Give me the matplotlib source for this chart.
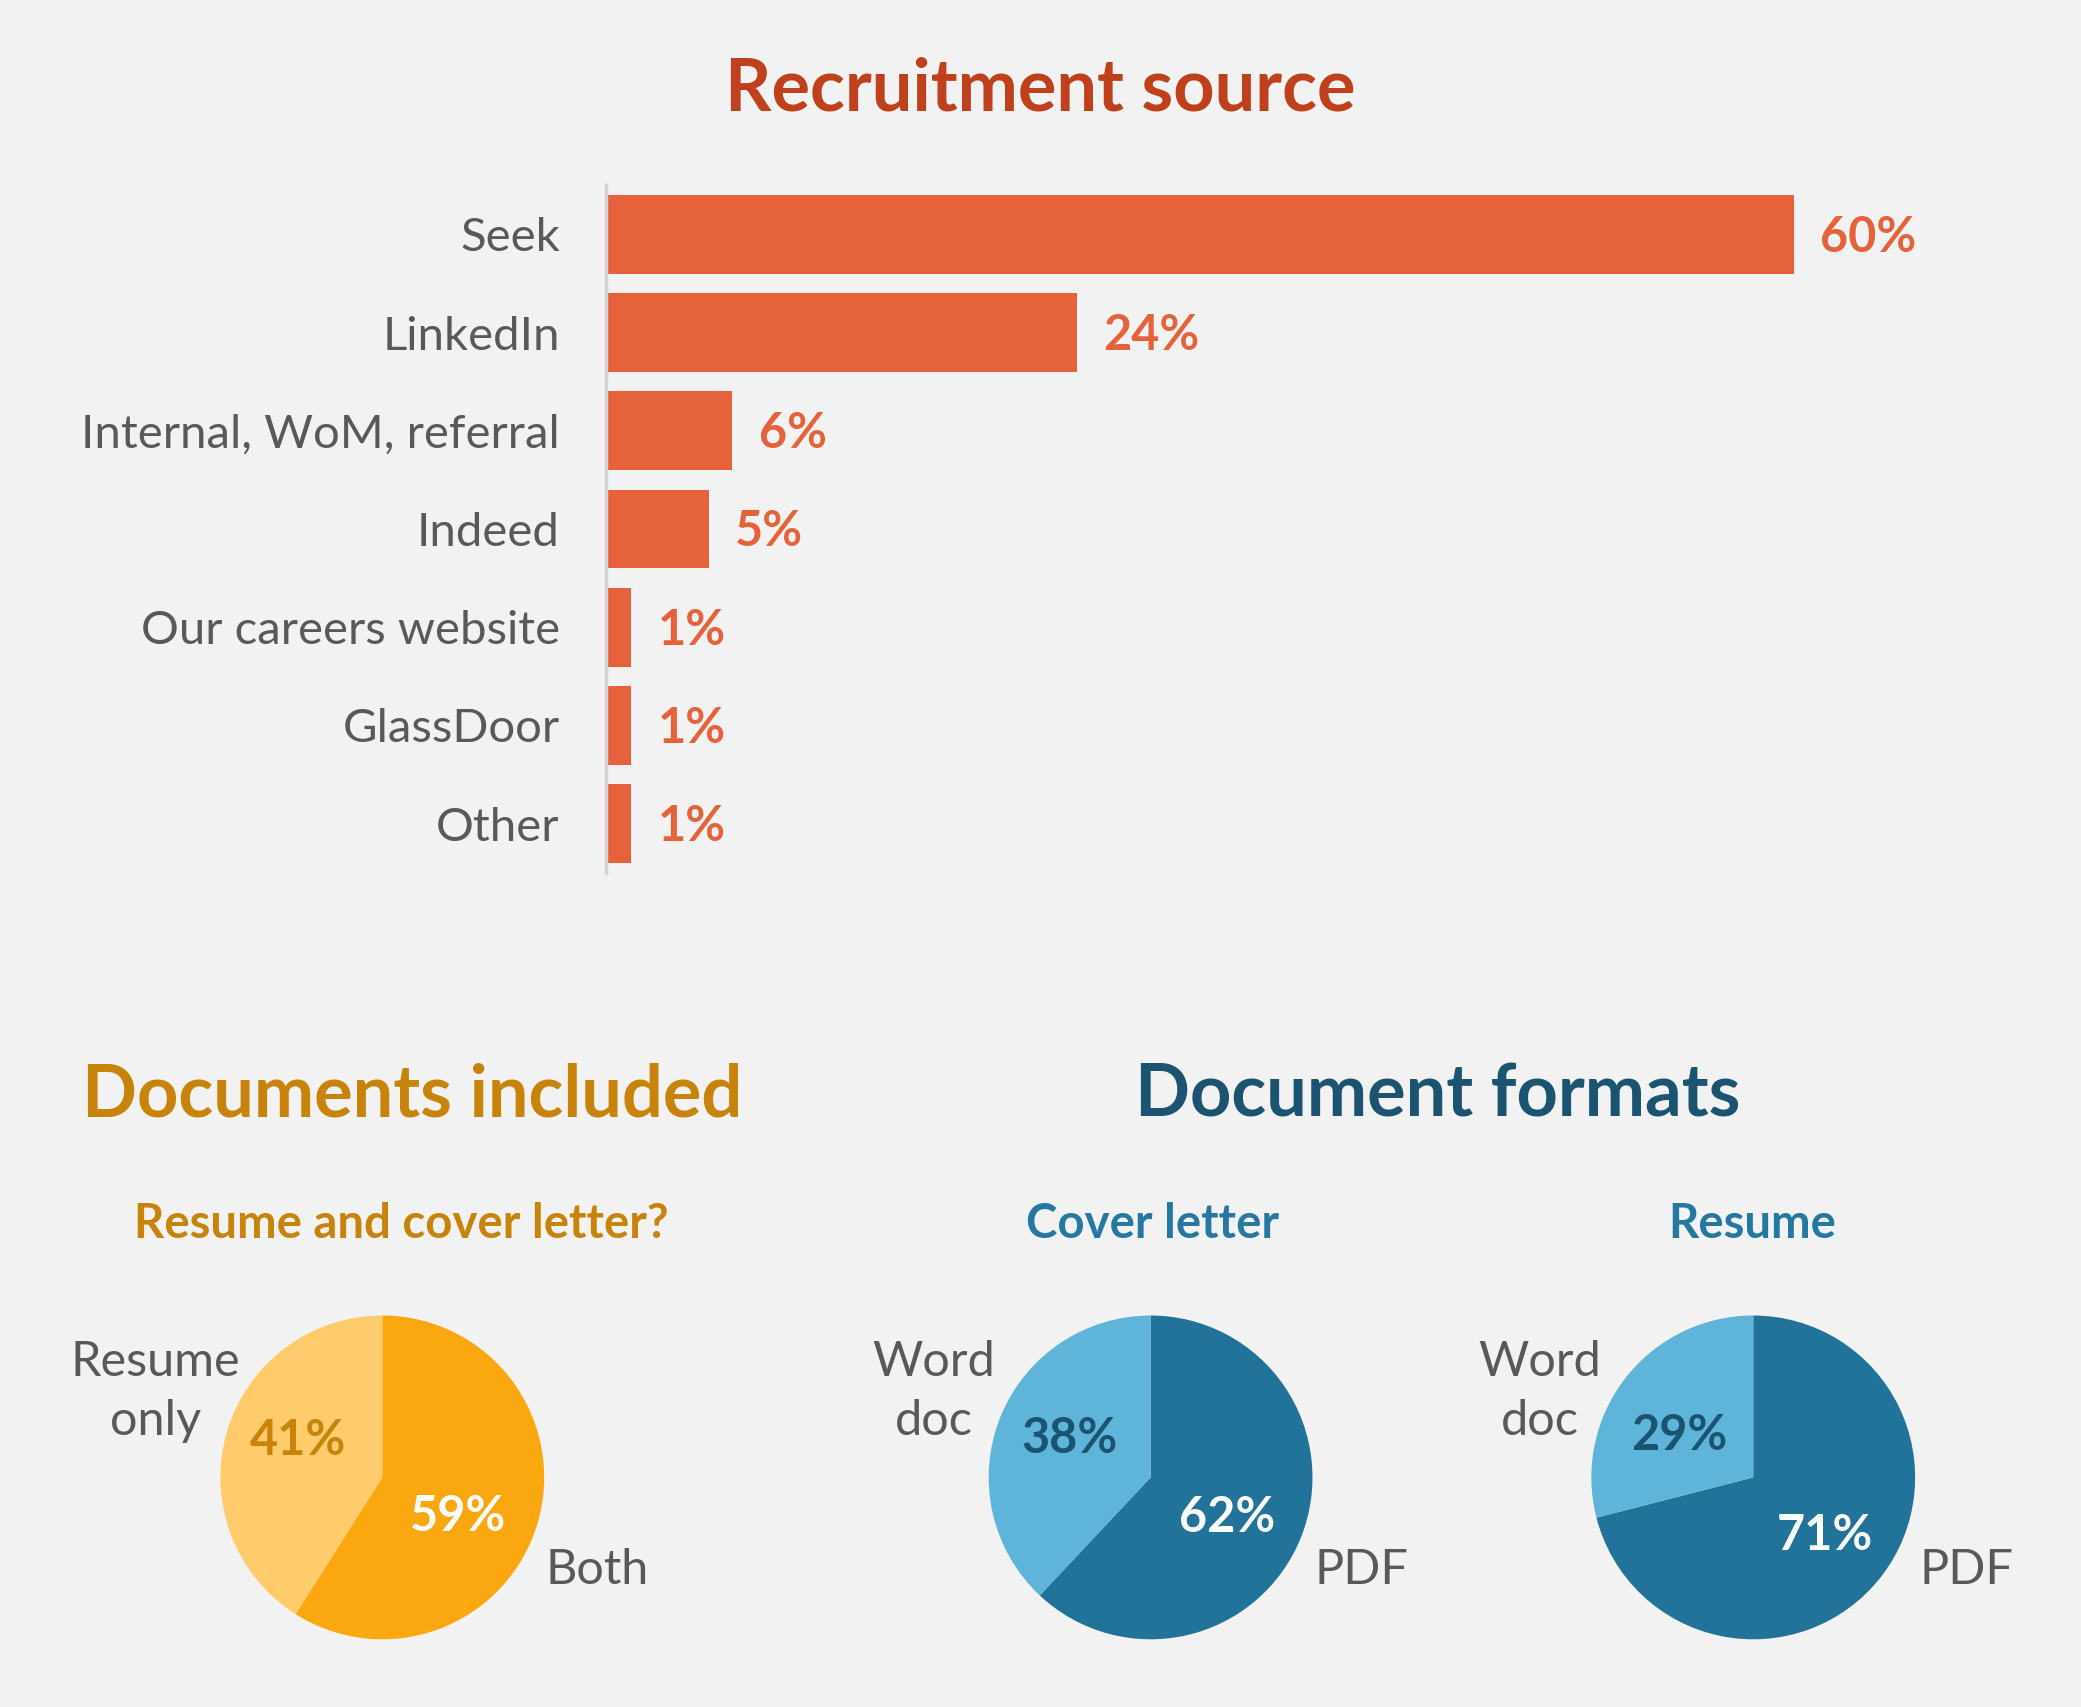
import matplotlib.pyplot as plt
import numpy as np

plt.rcParams['font.family'] = ['Lato', 'DejaVu Sans']

# recruitment source data
sources = ['Seek', 'LinkedIn', 'Internal, WoM, referral', 'Indeed',
           'Our careers website', 'GlassDoor', 'Other']
source_pct = [60, 23.8, 6.4, 5.2, 1.3, 1.3, 1.3]
source_lbl = ['60%', '24%', '6%', '5%', '1%', '1%', '1%']

# pies
docs_labels = ['Both', 'Resume\nonly']
docs_pct = [59, 41]
cover_labels = ['PDF', 'Word\ndoc']
cover_pct = [62, 38]
resume_labels = ['PDF', 'Word\ndoc']
resume_pct = [71, 29]

bg = '#F2F2F2'
grey = '#595959'

fig = plt.figure(figsize=(20.81, 17.07), dpi=100, facecolor=bg)

# ---- bar chart ----
ax = fig.add_axes([0.291, 0.4887, 0.666, 0.4028])
ax.set_facecolor(bg)
y = np.arange(len(sources))
ax.barh(y, source_pct, height=0.8, color='#E5623A')
ax.set_xlim(0, 70)
ax.set_ylim(len(sources) - 0.5, -0.5)
ax.set_yticks(y)
ax.set_yticklabels(sources, fontsize=34, color=grey)
ax.tick_params(axis='y', length=0, pad=33)
ax.set_xticks([])
for s in ['top', 'right', 'bottom']:
    ax.spines[s].set_visible(False)
ax.spines['left'].set_color('#D4D4D4')
ax.spines['left'].set_linewidth(2.5)
for i, v in enumerate(source_pct):
    ax.annotate(source_lbl[i], (v, i), xytext=(19, -2), textcoords='offset points',
                ha='left', va='center', fontsize=35, fontweight='bold', color='#E5623A')

fig.text(0.5, 0.947, 'Recruitment source', ha='center', va='center',
         fontsize=52, fontweight='bold', color='#C0401B')

# ---- section titles ----
fig.text(0.198, 0.358, 'Documents included', ha='center', va='center',
         fontsize=52, fontweight='bold', color='#C8830A')
fig.text(0.691, 0.358, 'Document formats', ha='center', va='center',
         fontsize=52, fontweight='bold', color='#1B5470')

fig.text(0.193, 0.283, 'Resume and cover letter?', ha='center', va='center',
         fontsize=34, fontweight='bold', color='#C8830A')
fig.text(0.5536, 0.283, 'Cover letter', ha='center', va='center',
         fontsize=34, fontweight='bold', color='#2579A1')
fig.text(0.8418, 0.283, 'Resume', ha='center', va='center',
         fontsize=34, fontweight='bold', color='#2579A1')


def draw_pie(cx, vals, labels, colors, pct_colors, pct_pos, lbl_pos):
    w, h = 0.2334, 0.2846
    pax = fig.add_axes([cx - w / 2, 0.1345 - h / 2, w, h])
    pax.set_facecolor(bg)
    pax.pie(vals, colors=colors, startangle=90, counterclock=False, radius=1,
            wedgeprops=dict(linewidth=0))
    pax.set_xlim(-1.5, 1.5)
    pax.set_ylim(-1.5, 1.5)
    pax.set_aspect('equal')
    pax.axis('off')
    for v, c, p in zip(vals, pct_colors, pct_pos):
        pax.text(p[0], p[1], f'{v}%', ha='center', va='center', fontsize=35,
                 fontweight='bold', color=c)
    for t, p in zip(labels, lbl_pos):
        pax.text(p[0], p[1], t, ha='center', va='center', fontsize=35,
                 color=grey, linespacing=1.4)


draw_pie(0.1837, docs_pct, docs_labels, ['#FBA70F', '#FFCB6B'],
         ['white', '#C8830A'], [(0.47, -0.24), (-0.52, 0.23)],
         [(1.33, -0.57), (-1.40, 0.53)])
draw_pie(0.5529, cover_pct, cover_labels, ['#22739A', '#5FB4DA'],
         ['white', '#1B5470'], [(0.47, -0.25), (-0.50, 0.24)],
         [(1.30, -0.57), (-1.34, 0.53)])
draw_pie(0.8425, resume_pct, resume_labels, ['#22739A', '#5FB4DA'],
         ['white', '#1B5470'], [(0.44, -0.36), (-0.46, 0.26)],
         [(1.32, -0.57), (-1.32, 0.53)])

fig.savefig('out.png', dpi=100, facecolor=bg)
